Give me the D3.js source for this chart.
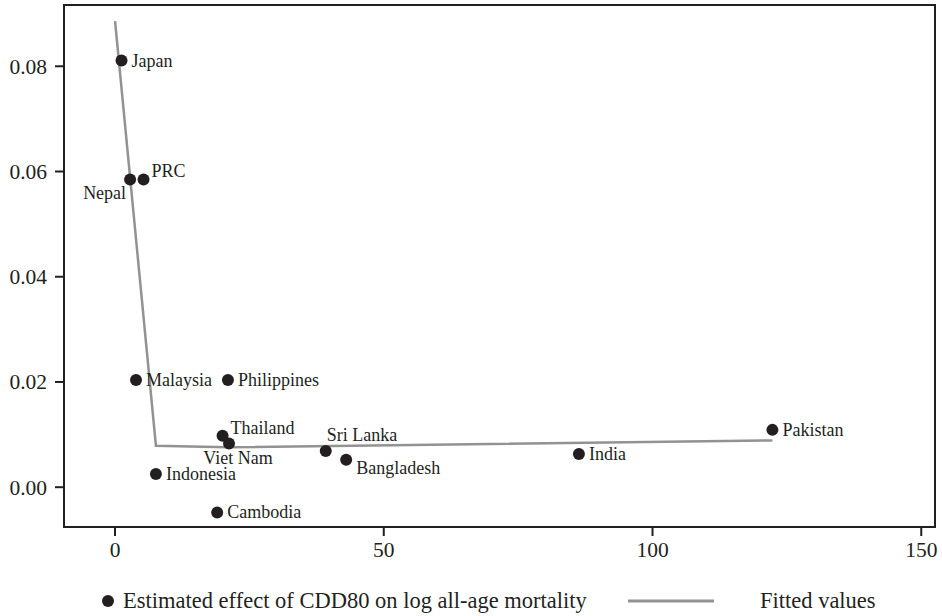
<!DOCTYPE html>
<html>
<head>
<meta charset="utf-8">
<script src="https://cdn.jsdelivr.net/npm/d3@7"></script>
<style>
  html, body { margin: 0; padding: 0; background: #fff; }
  svg, svg text { font-family: "Liberation Serif", "Times New Roman", Times, serif !important; }
</style>
</head>
<body>
<svg id="chart" width="942" height="616"></svg>
<script>
// ---- Data ----
const countries = ["Japan", "Nepal", "PRC", "Malaysia", "Philippines", "Thailand", "Viet Nam",
                   "Indonesia", "Cambodia", "Sri Lanka", "Bangladesh", "India", "Pakistan"];
const cdd80 = [1.3, 2.9, 5.4, 4.0, 21.1, 20.1, 21.3, 7.7, 19.1, 39.3, 43.1, 86.4, 122.4];
const effect = [0.0810, 0.0584, 0.0584, 0.0203, 0.0203, 0.0097, 0.0082, 0.0024, -0.0049, 0.0068, 0.0051, 0.0062, 0.0108];
const labelClock = [3, 7, 2, 3, 3, 2, 6, 3, 3, 1, 4, 3, 3];

const fittedX = [0.1, 7.7, 21.0, 122.4];
const fittedY = [0.0885, 0.0078, 0.0075, 0.0088];

const xTicks = [0, 50, 100, 150];
const yTicks = [0.00, 0.02, 0.04, 0.06, 0.08];

const legendLabels = ["Estimated effect of CDD80 on log all-age mortality", "Fitted values"];

// ---- Layout ----
const plot = { left: 64, right: 935, top: 5, bottom: 527 };
const ink = "#231f20";
const lineGray = "#929292";
const serif = '"Liberation Serif", "Times New Roman", Times, serif';

const svg = d3.select("#chart");

const x = d3.scaleLinear().domain([-9.4, 152.65]).range([plot.left, plot.right]);
const y = d3.scaleLinear().domain([-0.00766, 0.09155]).range([plot.bottom, plot.top]);

// Axes
const xAxis = d3.axisBottom(x).tickValues(xTicks).tickSize(9).tickPadding(6).tickFormat(d3.format("d"));
const yAxis = d3.axisLeft(y).tickValues(yTicks).tickSize(9).tickPadding(8).tickFormat(d3.format(".2f"));

const gx = svg.append("g").attr("transform", `translate(0,${plot.bottom})`).call(xAxis);
const gy = svg.append("g").attr("transform", `translate(${plot.left},0)`).call(yAxis);
[gx, gy].forEach(g => {
  g.attr("font-family", null).style("font-family", serif).attr("font-size", null);
  g.select(".domain").remove();
  g.selectAll(".tick line").attr("stroke", ink).attr("stroke-width", 2);
  g.selectAll(".tick text").attr("fill", ink).style("font-size", "21.5px").style("font-family", serif);
});
gy.selectAll(".tick text").attr("dy", "0.34em");
gx.selectAll(".tick text").attr("dy", "0.72em");

// Frame
svg.append("rect")
  .attr("x", plot.left).attr("y", plot.top)
  .attr("width", plot.right - plot.left).attr("height", plot.bottom - plot.top)
  .attr("fill", "none").attr("stroke", ink).attr("stroke-width", 2);

// Fitted line
const fitted = fittedX.map((v, i) => [v, fittedY[i]]);
svg.append("path")
  .datum(fitted)
  .attr("fill", "none")
  .attr("stroke", lineGray)
  .attr("stroke-width", 2.5)
  .attr("d", d3.line().x(d => x(d[0])).y(d => y(d[1])));

// Points
const pts = countries.map((c, i) => ({ name: c, x: cdd80[i], y: effect[i], clock: labelClock[i] }));
svg.append("g").selectAll("circle")
  .data(pts).join("circle")
  .attr("cx", d => x(d.x)).attr("cy", d => y(d.y))
  .attr("r", 6).attr("fill", ink);

// Label placement by clock position
const placement = {
  3: { anchor: "start",  dx: 10, dy: 6 },
  2: { anchor: "start",  dx: 8,  dy: -2 },
  1: { anchor: "start",  dx: 1,  dy: -10 },
  4: { anchor: "start",  dx: 10, dy: 14 },
  6: { anchor: "middle", dx: 9,  dy: 20 },
  7: { anchor: "end",    dx: -4, dy: 20 }
};
svg.append("g").selectAll("text")
  .data(pts).join("text")
  .attr("x", d => x(d.x) + placement[d.clock].dx)
  .attr("y", d => y(d.y) + placement[d.clock].dy)
  .attr("text-anchor", d => placement[d.clock].anchor)
  .style("font-size", "18px")
  .style("font-family", serif)
  .attr("fill", ink)
  .text(d => d.name);

// Legend
const leg = svg.append("g");
leg.append("circle").attr("cx", 108).attr("cy", 601).attr("r", 6).attr("fill", ink);
leg.append("text").attr("x", 123).attr("y", 608).style("font-size", "22.5px").style("font-family", serif)
  .attr("fill", ink).text(legendLabels[0]);
leg.append("line").attr("x1", 628).attr("x2", 714).attr("y1", 601).attr("y2", 601)
  .attr("stroke", lineGray).attr("stroke-width", 3);
leg.append("text").attr("x", 760).attr("y", 608).style("font-size", "22.5px").style("font-family", serif)
  .attr("fill", ink).text(legendLabels[1]);
</script>
</body>
</html>
